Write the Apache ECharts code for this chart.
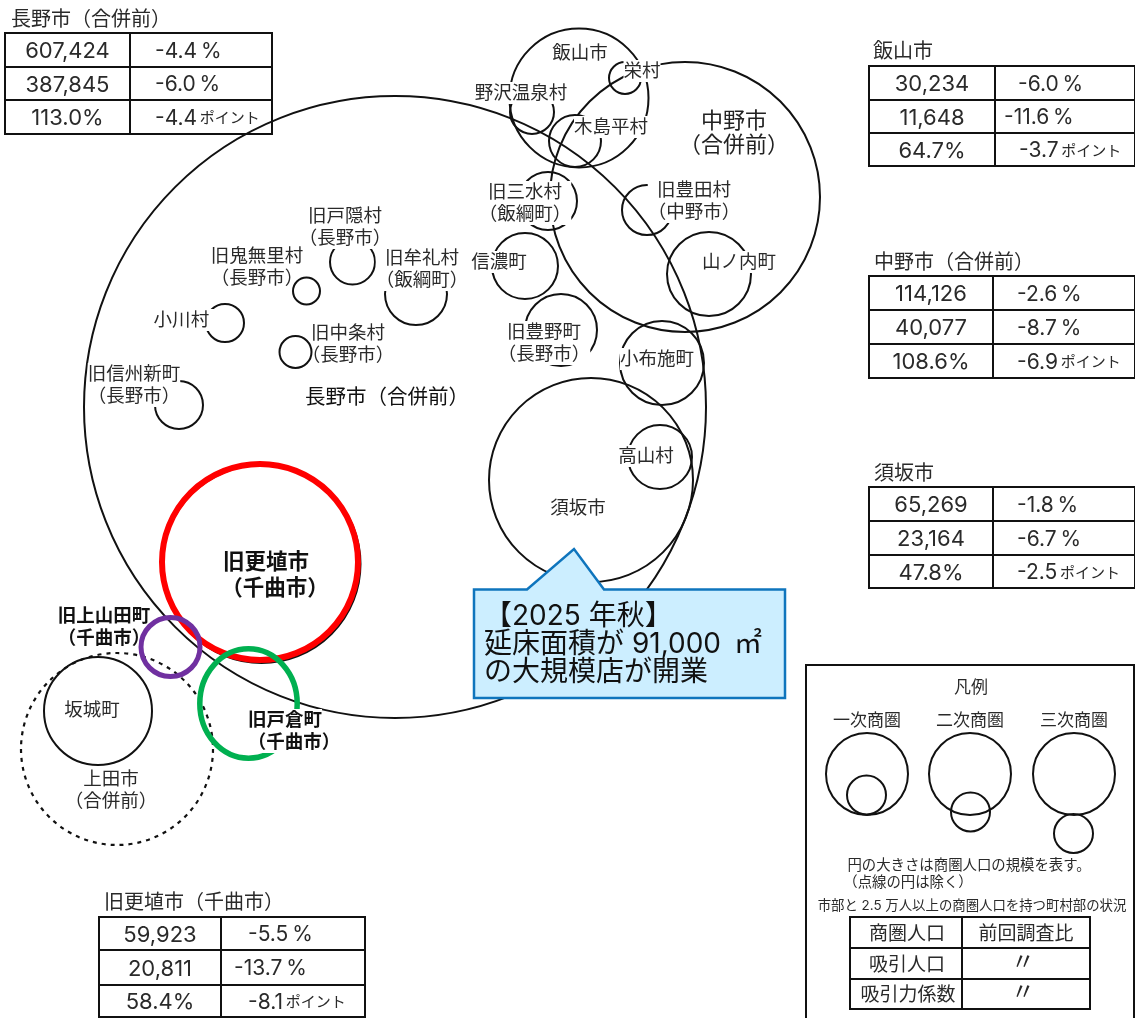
<!DOCTYPE html>
<html lang="ja">
<head>
<meta charset="utf-8">
<title>商圏図</title>
<style>html,body{margin:0;padding:0;background:#fff}#c{width:1135px;height:1018px}</style>
<script src="https://cdn.jsdelivr.net/npm/echarts@6/dist/echarts.min.js"></script>
</head>
<body>
<div id="c"></div>
<script>
// circles: [name, centre x, centre y, radius] in diagram units
const blackCircles = [
  ['長野市', 395, 407, 311], ['飯山市', 579, 98, 69.5], ['中野市', 685, 197, 135],
  ['栄村', 625, 78, 16], ['野沢温泉村', 532, 112, 22], ['木島平村', 575, 141, 26],
  ['旧三水村', 548, 201, 29], ['旧豊田村', 647, 210, 25], ['山ノ内町', 709, 274, 42],
  ['信濃町', 525, 266, 33], ['旧豊野町', 561, 330, 36], ['小布施町', 662, 363, 42],
  ['須坂市', 591, 480, 102], ['高山村', 660, 457, 32], ['旧戸隠村', 352.5, 262, 22.5],
  ['旧牟礼村', 416, 294, 31], ['小川村', 225, 323, 19],
  ['旧信州新町', 179, 405, 24], ['更埴市黒', 261.5, 564, 99],
  ['坂城町', 98, 711, 54],
  ['凡例1大', 867, 774, 41], ['凡例1小', 866.5, 795, 19.5],
  ['凡例2大', 970, 774, 41], ['凡例2小', 970.5, 812, 19.5],
  ['凡例3大', 1074, 774, 41], ['凡例3小', 1073.5, 833.5, 19.5]
];
const unmaskedCircles = [['旧鬼無里村', 306.5, 291, 13.5], ['旧中条村', 295.5, 352, 16]];
const dashedCircles = [['上田市', 117, 749, 96]];
const redCircles = [['旧更埴市', 260, 562, 98]];
const purpleCircles = [['旧上山田町', 170.5, 647, 29.5]];
// the old Togura circle is slightly squashed: [name, x, y, rx, ry]
const greenEllipses = [['旧戸倉町', 248.5, 703.5, 48.7, 54.7]];

// map labels: [text, centre x, centre y]
const mapLabels = [
  ['飯山市', 580, 53], ['栄村', 642, 71], ['野沢温泉村', 521, 93], ['木島平村', 611, 127],
  ['旧三水村\n（飯綱町）', 525, 203], ['旧豊田村\n（中野市）', 694, 201], ['山ノ内町', 739, 262],
  ['信濃町', 499, 262], ['旧豊野町\n（長野市）', 544, 343], ['小布施町', 657, 359],
  ['高山村', 646, 456], ['須坂市', 578, 508], ['旧戸隠村\n（長野市）', 345, 227],
  ['旧鬼無里村\n（長野市）', 257, 267], ['旧牟礼村\n（飯綱町）', 422, 269], ['小川村\u2002', 186, 320],
  ['旧中条村\n（長野市）', 348, 344], ['旧信州新町\n（長野市）', 134, 385],
  ['坂城町', 92, 710], ['上田市\n（合併前）', 111, 790]
];
const nakanoLabel = [['中野市\n（合併前）', 734, 133]];
const naganoLabel = [['長野市（合併前）', 387, 398]];
const koshokuLabels = [['旧更埴市', 266, 563], ['（千曲市）', 275, 589]];
const boldLabels = [
  ['旧上山田町\n（千曲市）', 104, 627], ['旧戸倉町', 285, 720], ['（千曲市）', 294, 742]
];
const legendLabels = [
  ['凡例', 971, 688], ['一次商圏', 867, 721], ['二次商圏', 970, 721], ['三次商圏', 1074, 721]
];
const legendNotes = [
  ['円の大きさは商圏人口の規模を表す。', 969, 866], ['（点線の円は除く）', 908, 883]
];
const legendSmall = [['市部と 2.5 万人以上の商圏人口を持つ町村部の状況', 972, 906]];
const legendTableText = [
  ['商圏人口', 907, 934], ['前回調査比', 1026, 934], ['吸引人口', 907, 965], ['吸引力係数', 908, 995]
];
const legendDitto = [['〃', 1023, 963], ['〃', 1023, 993]];

// result tables
const tableNames = ['長野市（合併前）', '飯山市', '中野市（合併前）', '須坂市', '旧更埴市（千曲市）'];
const tableTitleAt = [[11, 20], [873, 52], [874, 263], [874, 474], [104, 903]];
const population = ['607,424', '30,234', '114,126', '65,269', '59,923'];
const populationChange = ['-4.4', '-6.0', '-2.6', '-1.8', '-5.5'];
const attraction = ['387,845', '11,648', '40,077', '23,164', '20,811'];
const attractionChange = ['-6.0', '-11.6', '-8.7', '-6.7', '-13.7'];
const coefficient = ['113.0%', '64.7%', '108.6%', '47.8%', '58.4%'];
const coefficientChange = ['-4.4', '-3.7', '-6.9', '-2.5', '-8.1'];
// table frame: [left, divider, right, row y0, y1, y2, y3]
const tableFrames = [
  [5, 130, 272, 33, 67, 100, 134],
  [869, 995, 1135, 66, 100, 133, 166],
  [869, 993, 1135, 276, 310, 344, 378],
  [869, 993, 1135, 487, 521, 555, 588],
  [99, 221, 365, 917, 950, 985, 1017]
];
const changeTextX = [[155, 155, 155], [1018, 1004, 1019], [1017, 1017, 1017], [1017, 1017, 1017], [248, 234, 248]];
const legendTableFrame = [850, 962, 1090, 917, 948, 979, 1009];
const legendBox = [806, 665, 1134, 1040];
const calloutPoints = [[474, 589.5], [527, 589.5], [574, 549], [604, 589.5], [785, 589.5], [785, 698], [474, 698]];
const calloutText = [['【2025 年秋】', 484, 617], ['延床面積が 91,000\u2009 ㎡', 484, 645], ['の大規模店が開業', 484, 673]];

const CJK = '"Noto Sans CJK JP","Noto Sans",sans-serif';
const FONT = 'Inter,' + CJK;
const INK = '#2a2a2a';

function circleSeries(name, rows, stroke, width, dash) {
  return {
    type: 'custom', name, coordinateSystem: 'cartesian2d', silent: true, clip: false,
    data: rows.map(r => [r[1], r[2], r[3]]),
    renderItem(p, api) {
      const c = api.coord([api.value(0), api.value(1)]);
      const r = api.size([api.value(2), 0])[0];
      return { type: 'circle', shape: { cx: c[0], cy: c[1], r },
        style: { fill: 'none', stroke, lineWidth: width, lineDash: dash || null } };
    }
  };
}
function ellipseSeries(name, rows, stroke, width) {
  return {
    type: 'custom', name, coordinateSystem: 'cartesian2d', silent: true, clip: false,
    data: rows.map(r => [r[1], r[2], r[3], r[4]]),
    renderItem(p, api) {
      const c = api.coord([api.value(0), api.value(1)]);
      const s = api.size([api.value(2), api.value(3)]);
      return { type: 'ellipse', shape: { cx: c[0], cy: c[1], rx: s[0], ry: s[1] },
        style: { fill: 'none', stroke, lineWidth: width } };
    }
  };
}
function textSeries(name, rows, size, opt) {
  opt = opt || {};
  return {
    type: 'custom', name, coordinateSystem: 'cartesian2d', silent: true, clip: false, z: opt.z || 2,
    data: rows.map(r => [r[1], r[2]]),
    renderItem(p, api) {
      const c = api.coord([api.value(0), api.value(1)]);
      const st = {
        text: rows[p.dataIndex][0], x: c[0], y: c[1], fill: opt.fill || INK,
        font: (opt.weight || 'normal') + ' ' + size + 'px ' + FONT,
        align: opt.align || 'center', verticalAlign: 'middle', lineHeight: opt.lineHeight || size + 5
      };
      if (opt.mask) { st.backgroundColor = '#fff'; }
      if (opt.rich) { st.rich = opt.rich; }
      return { type: 'text', style: st };
    }
  };
}
function linesSeries(name, segs, width) {
  return {
    type: 'custom', name, coordinateSystem: 'cartesian2d', silent: true, clip: false, z: 3,
    data: segs,
    renderItem(p, api) {
      const a = api.coord([api.value(0), api.value(1)]);
      const b = api.coord([api.value(2), api.value(3)]);
      return { type: 'line', shape: { x1: a[0], y1: a[1], x2: b[0], y2: b[1] },
        style: { stroke: '#111', lineWidth: width, lineCap: 'square' } };
    }
  };
}
function frameSegs(f) {
  const [l, m, r, y0, y1, y2, y3] = f, out = [];
  [y0, y1, y2, y3].forEach(y => out.push([l, y, r, y]));
  [l, m, r].forEach(x => out.push([x, y0, x, y3]));
  return out;
}
const tableSegs = tableFrames.concat([legendTableFrame]).flatMap(frameSegs);
const b = legendBox;
const boxSegs = [[b[0], b[1], b[2], b[1]], [b[0], b[1], b[0], b[3]], [b[2], b[1], b[2], b[3]]];

const titles = tableNames.map((n, i) => [n, tableTitleAt[i][0], tableTitleAt[i][1]]);
const numberCells = [], changeCells = [];
tableFrames.forEach((f, i) => {
  const cx = (f[0] + f[1]) / 2, mid = k => (f[3 + k] + f[4 + k]) / 2 + 1.5;
  numberCells.push([population[i], cx, mid(0)], [attraction[i], cx, mid(1)], [coefficient[i], cx, mid(2)]);
  changeCells.push(
    ['{n|' + populationChange[i] + '\u2009%}', changeTextX[i][0], mid(0)],
    ['{n|' + attractionChange[i] + '\u2009%}', changeTextX[i][1], mid(1)],
    ['{n|' + coefficientChange[i] + '}{s|\u2009ポイント}', changeTextX[i][2], mid(2)]
  );
});

const chart = echarts.init(document.getElementById('c'), null, { renderer: 'canvas' });
chart.setOption({
  animation: false,
  backgroundColor: '#fff',
  grid: { left: 0, right: 0, top: 0, bottom: 0 },
  xAxis: { type: 'value', min: 0, max: 1135, show: false },
  yAxis: { type: 'value', min: 0, max: 1018, inverse: true, show: false },
  series: [
    circleSeries('black', blackCircles, '#111', 2),
    circleSeries('dashed', dashedCircles, '#111', 2.2, [4, 5]),
    circleSeries('red', redCircles, '#ff0000', 6),
    ellipseSeries('green', greenEllipses, '#00b050', 5.5),
    textSeries('mapLabels', mapLabels, 18.5, { mask: true, lineHeight: 22 }),
    textSeries('nakanoLabel', nakanoLabel, 22, { lineHeight: 24, fill: '#222' }),
    textSeries('naganoLabel', naganoLabel, 20.5, { mask: true, lineHeight: 24, fill: '#111' }),
    textSeries('koshokuLabels', koshokuLabels, 21.5, { weight: 'bold', fill: '#111' }),
    textSeries('boldLabels', boldLabels, 18.5, { mask: true, weight: 'bold', lineHeight: 22, fill: '#111' }),
    Object.assign(circleSeries('unmasked', unmaskedCircles, '#111', 2), { z: 3 }),
    Object.assign(circleSeries('purple', purpleCircles, '#7030a0', 5), { z: 3 }),
    {
      type: 'custom', name: 'callout', coordinateSystem: 'cartesian2d', silent: true, clip: false, z: 6,
      data: calloutPoints,
      renderItem(p, api) {
        if (p.dataIndex !== 0) return null;
        return { type: 'polygon', shape: { points: calloutPoints.map(pt => api.coord(pt)) },
          style: { fill: '#cceeff', stroke: '#0f75bd', lineWidth: 2.5 } };
      }
    },
    textSeries('calloutText', calloutText, 28, { align: 'left', z: 7, fill: '#111' }),
    linesSeries('tableLines', tableSegs, 2),
    linesSeries('legendBox', boxSegs, 2),
    textSeries('tableTitles', titles, 20, { align: 'left' }),
    textSeries('numberCells', numberCells, 22),
    textSeries('changeCells', changeCells, 21, { align: 'left', rich: {
      n: { font: '21px ' + FONT, fill: INK },
      s: { font: '15px ' + FONT, fill: INK }
    } }),
    textSeries('legendLabels', legendLabels, 17),
    textSeries('legendNotes', legendNotes, 14.4),
    textSeries('legendSmall', legendSmall, 13.4),
    textSeries('legendTableText', legendTableText, 19),
    textSeries('legendDitto', legendDitto, 24)
  ]
});
</script>
</body>
</html>
